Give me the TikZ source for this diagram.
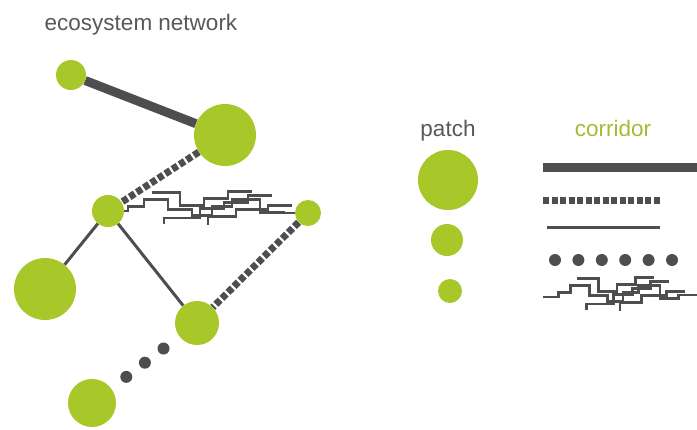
\documentclass[tikz,border=0pt]{standalone}
\usepackage{xcolor}
\usepackage{fontspec}
\setmainfont{Liberation Sans}
\usetikzlibrary{calc,backgrounds}
\definecolor{patchgreen}{RGB}{168,200,42}
\definecolor{corrgray}{RGB}{78,78,80}
\definecolor{labelgray}{RGB}{88,88,90}
\definecolor{labelgreen}{RGB}{160,190,52}
\newcommand{\zz}[2]{({\x1+#1*\n1},{\y1+1.4*#2pt})}
\tikzstyle{patch} = [circle, inner sep=0pt, fill=patchgreen, draw=none]
\tikzstyle{title} = [anchor=base, font=\fontsize{22.5}{27}\selectfont]
\tikzstyle{thickcorr} = [line width=9pt, corrgray]
\tikzstyle{dashcorr} = [line width=7pt, corrgray, dash pattern=on 6pt off 2.5pt]
\tikzstyle{thincorr} = [line width=3pt, corrgray]
\tikzstyle{dotcorr} = [line width=12pt, corrgray, line cap=round, dash pattern=on 0pt off 23.4pt]
\tikzstyle{stepcorr} = [line width=2.8pt, corrgray, to path={let \p1=(\tikztostart), \p2=(\tikztotarget), \n1={\x2-\x1} in
  \zz{0}{0} -- \zz{0.10}{0} -- \zz{0.10}{3} -- \zz{0.18}{3} -- \zz{0.18}{8} -- \zz{0.30}{8} -- \zz{0.30}{1} -- \zz{0.42}{1}
  -- \zz{0.42}{-3} -- \zz{0.52}{-3} -- \zz{0.52}{3} -- \zz{0.62}{3} -- \zz{0.62}{8} -- \zz{0.76}{8} -- \zz{0.76}{-1}
  -- \zz{0.88}{-1} -- ({\x1+0.88*\n1},\y2) -- (\x2,\y2)
  \zz{0.22}{13} -- \zz{0.36}{13} -- \zz{0.36}{4} -- \zz{0.48}{4} -- \zz{0.48}{9} -- \zz{0.60}{9} -- \zz{0.60}{14} -- \zz{0.72}{14}
  \zz{0.28}{-9} -- \zz{0.28}{-5} -- \zz{0.46}{-5} -- \zz{0.46}{2} -- \zz{0.58}{2} -- \zz{0.58}{6} -- \zz{0.70}{6} -- \zz{0.70}{11} -- \zz{0.82}{11}
  \zz{0.50}{-10} -- \zz{0.50}{-4} -- \zz{0.64}{-4} -- \zz{0.64}{1} -- \zz{0.80}{1} -- \zz{0.80}{4} -- \zz{0.92}{4}}]

\begin{document}
\begin{tikzpicture}[x=1pt, y=-1pt]
\useasboundingbox (0,0) rectangle (697,429);
% network
\node (eco) [title, labelgray] at (141,30) {ecosystem network};
\node (a) [patch, minimum size=30pt] at (71,75) {};
\node (b) [patch, minimum size=62pt] at (225,135) {};
\node (c) [patch, minimum size=32pt] at (108,211) {};
\node (d) [patch, minimum size=26pt] at (308,213) {};
\node (e) [patch, minimum size=62pt] at (45,289) {};
\node (f) [patch, minimum size=44pt] at (197,323) {};
\node (g) [patch, minimum size=48pt] at (92,403) {};

% legend
\node (patchlbl) [title, labelgray] at (448,136) {patch};
\node (corrlbl) [title, labelgreen] at (613,136) {corridor};
\node (big) [patch, minimum size=60pt] at (448,180) {};
\node (mid) [patch, minimum size=32pt] at (447,240) {};
\node (small) [patch, minimum size=24pt] at (450,291) {};
\coordinate (thickL) at (543,167);
\coordinate (thickR) at (697,167);
\coordinate (dashL) at (543,200);
\coordinate (dashR) at (661,200);
\coordinate (thinL) at (547,227);
\coordinate (thinR) at (660,227);
\coordinate (dotL) at (555,260);
\coordinate (dotR) at (672.5,260);
\coordinate (stepL) at (543,297);
\coordinate (stepR) at (697,295);

\begin{pgfonlayer}{background}
\draw[thickcorr] (a) -- (b);
\draw[dashcorr] (b) -- (c);
\draw[thincorr] (c) -- (e);
\draw[thincorr] (c) -- (f);
\draw[dashcorr] (d) -- (f);
\draw[stepcorr] (c) to (d);
\draw[dotcorr, dash phase=3.5pt] (f) -- (g);

\draw[thickcorr] (thickL) -- (thickR);
\draw[dashcorr] (dashL) -- (dashR);
\draw[thincorr] (thinL) -- (thinR);
\draw[dotcorr] (dotL) -- (dotR);
\draw[stepcorr] (stepL) to (stepR);
\end{pgfonlayer}
\end{tikzpicture}
\end{document}
